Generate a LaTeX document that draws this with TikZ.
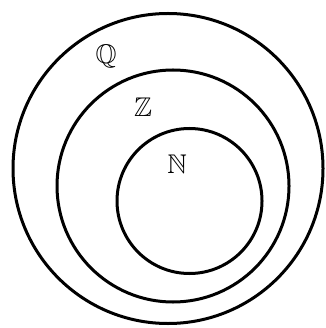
\documentclass[tikz,border=0pt]{standalone}
\usepackage{amssymb}
\begin{document}
\begin{tikzpicture}[x=1pt,y=-1pt,
  ring/.style={draw=black,line width=3pt},
  lbl/.style={inner sep=0pt,font=\fontsize{27}{30}\selectfont}]
\useasboundingbox (0,0) rectangle (325,328);
\fill[white] (0,0) rectangle (325,328);
\node[ring,circle,minimum size=310pt,inner sep=0pt] (Qc) at (168,168.5) {};
\node[ring,circle,minimum size=232pt,inner sep=0pt] (Zc) at (173,186) {};
\node[ring,circle,minimum size=145pt,inner sep=0pt] (Nc) at (189.5,201) {};
\node[lbl] (Q) at (106,56) {$\mathbb{Q}$};
\node[lbl] (Z) at (143,107) {$\mathbb{Z}$};
\node[lbl] (N) at (177,164) {$\mathbb{N}$};
\end{tikzpicture}
\end{document}
